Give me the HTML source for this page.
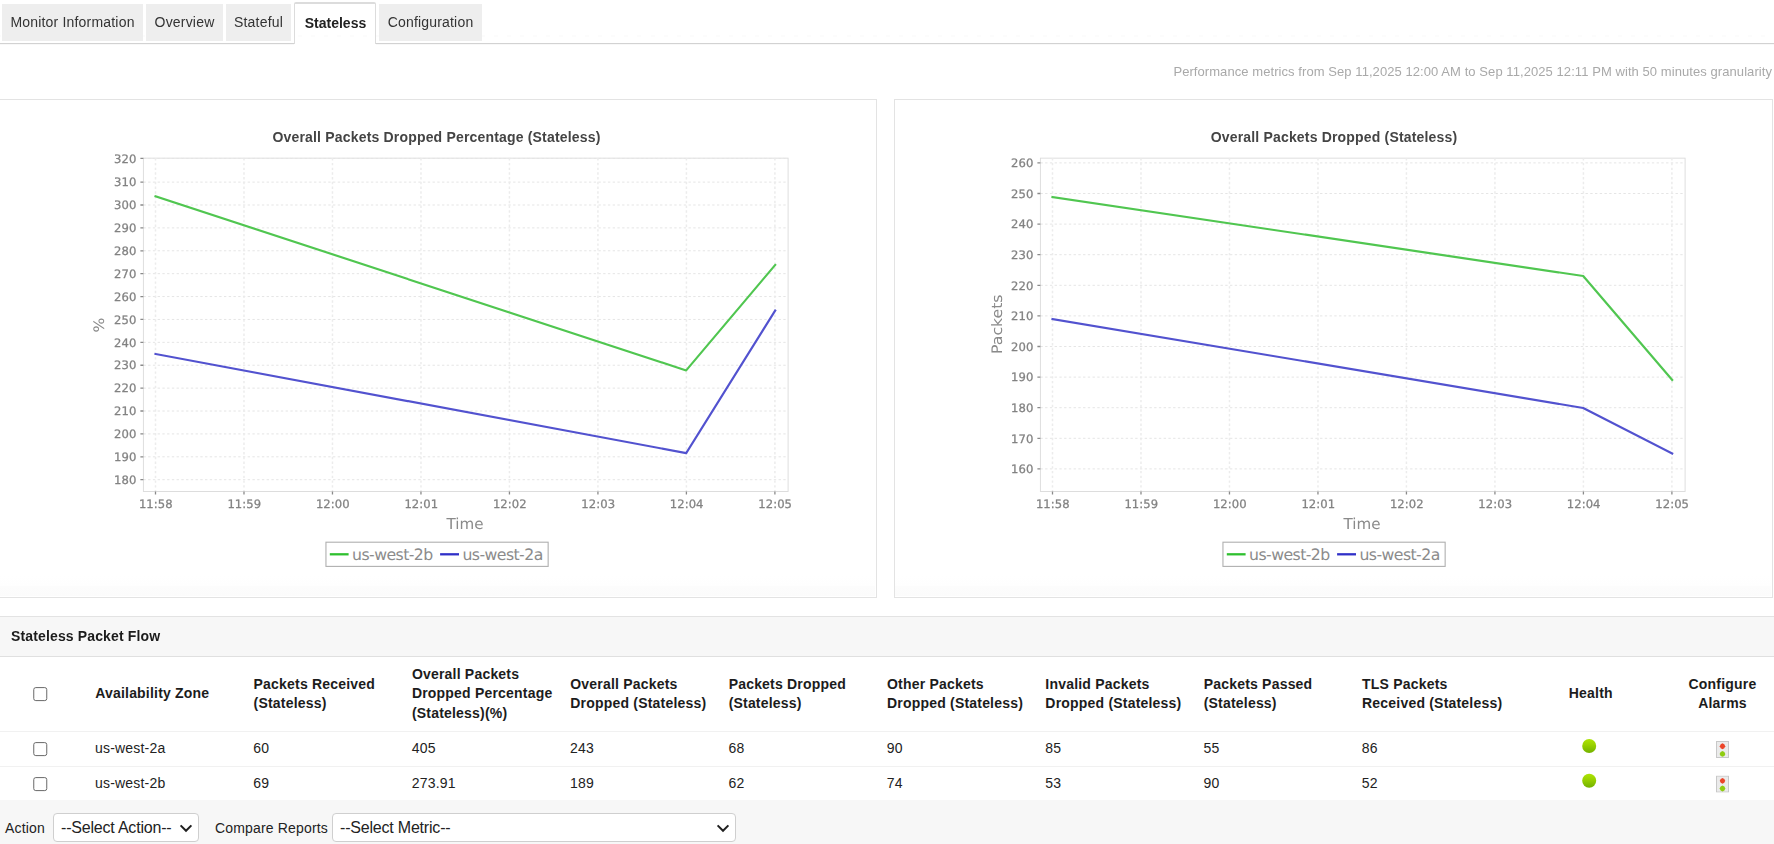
<!DOCTYPE html>
<html lang="en">
<head>
<meta charset="utf-8">
<title>Stateless</title>
<style>
*{box-sizing:border-box}
html,body{margin:0;padding:0;background:#fff;width:1774px;height:844px;overflow:hidden}
body{font-family:"Liberation Sans",sans-serif;font-size:14px;color:#222;position:relative}
.tabs{position:absolute;left:0;top:0;width:1774px;height:44px;border-bottom:1px solid #d2d2d2;box-shadow:0 .5px 0 #f0f0f0}
.tabs ul{list-style:none;margin:0;padding:0}
.tabs::after{content:"";position:absolute;left:-3px;top:35px;width:1777px;height:2px;background:repeating-linear-gradient(90deg,#fcfcfc 0 4px,rgba(0,0,0,0) 4px 13.07px);mix-blend-mode:darken;pointer-events:none}
.tabs li{position:absolute;top:4px;height:37px;background:#eeeeee;color:#333;font-size:14px;line-height:37px;text-align:center;white-space:nowrap;letter-spacing:.19px}
.tabs li.on{top:2px;height:42px;letter-spacing:0;padding-left:1px;background:#fff;border:1px solid #dcdcdc;border-bottom:0;border-top:2px solid #dcdcdc;box-shadow:0 1px 0 #fff;font-weight:bold;color:#222;line-height:38px;border-radius:2px 2px 0 0}
.perf{position:absolute;right:2px;top:64px;font-size:13px;line-height:15px;color:#a9a9a9;white-space:nowrap;letter-spacing:.07px}
.panel{position:absolute;top:99px;height:499px;border:1px solid #e3e3e3;background:#fff}
.panel::after{content:"";position:absolute;left:0;right:1px;bottom:1px;height:20px;background:linear-gradient(180deg,#fff 0%,#fefefe 48%,#fcfcfc 52%,#fbfbfb 100%);z-index:0}
.p1{left:-1px;width:878px}
.p2{left:894px;width:879px}
.chart{display:block;position:absolute;left:0;top:0;text-rendering:geometricPrecision}
.ct{position:absolute;top:29px;left:0;font-weight:bold;font-size:14px;line-height:16px;color:#444;white-space:nowrap;letter-spacing:.18px;text-align:center}
.tl{font-family:"DejaVu Sans",sans-serif;font-size:11.6px;letter-spacing:.06px;fill:#828282;stroke:#828282;stroke-width:.28px}
.al{font-family:"DejaVu Sans",sans-serif;font-size:15.1px;letter-spacing:.1px;fill:#8a8a8a}
.lg{font-family:"DejaVu Sans",sans-serif;font-size:15.7px;letter-spacing:-.55px;fill:#8b8b8b}
.sect{position:absolute;left:0;top:616px;width:1774px;height:228px;background:#f7f7f7;border-top:1px solid #e3e3e3}
.sect h3{margin:0;position:absolute;left:11px;top:11px;font-size:14px;line-height:16px;font-weight:bold;color:#1c1c1c;letter-spacing:.14px}
table.grid{position:absolute;left:0;top:656px;width:1774px;border-collapse:collapse;background:#fff;border-top:1px solid #e0e0e0;table-layout:fixed}
table.grid th{height:75px;text-align:left;font-weight:bold;font-size:14px;line-height:19.5px;color:#1c1c1c;padding:0 0 0 8.8px;vertical-align:middle;letter-spacing:.2px}
table.grid td{height:35px;border-top:1px solid #f1f1f1;font-size:14px;color:#222;padding:0 0 2px 8.6px;vertical-align:middle;letter-spacing:.2px}
table.grid tr.r2 td{height:34px}
table.grid th.c,table.grid td.c{text-align:center;padding-left:0}
table.grid th.c2{padding-left:1px}
table.grid th.k,table.grid td.k{padding-left:33px}
.cb{display:block;width:14px;height:14px;border:1px solid #686868;border-radius:2.5px;background:#fff;position:relative;top:1px;transform:translate(.25px,.1px)}
th .cb{top:0}
.dot{display:inline-block;width:14px;height:14px;border-radius:50%;background:linear-gradient(180deg,#abe205 5%,#9ad200 40%,#76b400 95%);vertical-align:middle;position:relative;top:-3px;left:-1px;transform:translateX(-.8px)}
tr.r2 .dot{transform:translate(-.8px,-.3px)}
tr.r2 .alarm{transform:translateY(-.4px)}
.alarm{display:inline-block;vertical-align:middle;position:relative;top:1px;left:1px}
.foot{position:absolute;left:0;top:800px;width:1774px;height:44px;background:#f7f7f7;font-size:14px;color:#222}
.foot label{position:absolute;top:20px;line-height:16px;white-space:nowrap;letter-spacing:.17px}
.sel{position:absolute;top:13px;height:29px;border:1px solid #cfcfcf;border-radius:4px;background:#fff;font-size:16px;line-height:27px;color:#222;padding-left:7px;white-space:nowrap;letter-spacing:-.2px}
.sel svg{position:absolute;right:5px;top:10px}

.yl{font-size:15.7px;letter-spacing:0}

</style>
</head>
<body>
<div class="tabs">
<ul>
<li style="left:2px;width:141px">Monitor Information</li>
<li style="left:146px;width:77px">Overview</li>
<li style="left:226px;width:65px">Stateful</li>
<li class="on" style="left:294px;width:82px">Stateless</li>
<li style="left:379px;width:103px">Configuration</li>
</ul>
</div>
<div class="perf">Performance metrics from Sep 11,2025 12:00 AM to Sep 11,2025 12:11 PM with 50 minutes granularity</div>
<div class="panel p1">
<div class="ct" style="left:272px;width:329px">Overall Packets Dropped Percentage (Stateless)</div>
<svg class="chart" width="875" height="497" viewBox="0 0 875 497">
<rect x="143.4" y="58.15" width="644.7" height="333.35" fill="#fff" stroke="#dcdcdc" stroke-width="0.95"/>
<path d="M143.4 58.4H788.1M143.4 82.1H788.1M143.4 104.99H788.1M143.4 127.88H788.1M143.4 150.78H788.1M143.4 173.67H788.1M143.4 196.56H788.1M143.4 219.45H788.1M143.4 242.35H788.1M143.4 265.24H788.1M143.4 288.13H788.1M143.4 311.02H788.1M143.4 333.92H788.1M143.4 356.81H788.1M143.4 379.7H788.1" fill="none" stroke="#e5e5e5" stroke-width="1" stroke-dasharray="2.37 2.37"/>
<path d="M155.5 58.15V391.5M243.99 58.15V391.5M332.47 58.15V391.5M420.96 58.15V391.5M509.44 58.15V391.5M597.93 58.15V391.5M686.41 58.15V391.5M774.9 58.15V391.5" fill="none" stroke="#ececec" stroke-width="1.5" stroke-dasharray="2.37 2.37"/>
<path d="M140.4 58.4H143.4M140.4 82.1H143.4M140.4 104.99H143.4M140.4 127.88H143.4M140.4 150.78H143.4M140.4 173.67H143.4M140.4 196.56H143.4M140.4 219.45H143.4M140.4 242.35H143.4M140.4 265.24H143.4M140.4 288.13H143.4M140.4 311.02H143.4M140.4 333.92H143.4M140.4 356.81H143.4M140.4 379.7H143.4M155.5 391.5V394.5M243.99 391.5V394.5M332.47 391.5V394.5M420.96 391.5V394.5M509.44 391.5V394.5M597.93 391.5V394.5M686.41 391.5V394.5M774.9 391.5V394.5" fill="none" stroke="#8a8a8a" stroke-width="1.3"/>
<g class="tl" text-anchor="end">
<text x="136.4" y="62.6">320</text>
<text x="136.4" y="86.3">310</text>
<text x="136.4" y="109.19">300</text>
<text x="136.4" y="132.08">290</text>
<text x="136.4" y="154.98">280</text>
<text x="136.4" y="177.87">270</text>
<text x="136.4" y="200.76">260</text>
<text x="136.4" y="223.65">250</text>
<text x="136.4" y="246.55">240</text>
<text x="136.4" y="269.44">230</text>
<text x="136.4" y="292.33">220</text>
<text x="136.4" y="315.22">210</text>
<text x="136.4" y="338.12">200</text>
<text x="136.4" y="361.01">190</text>
<text x="136.4" y="383.9">180</text>
</g>
<g class="tl" text-anchor="middle">
<text x="155.8" y="408.2">11:58</text>
<text x="244.29" y="408.2">11:59</text>
<text x="332.77" y="408.2">12:00</text>
<text x="421.26" y="408.2">12:01</text>
<text x="509.74" y="408.2">12:02</text>
<text x="598.23" y="408.2">12:03</text>
<text x="686.71" y="408.2">12:04</text>
<text x="775.2" y="408.2">12:05</text>
</g>
<text class="al" text-anchor="middle" x="465.1" y="428.85">Time</text>
<text class="al yl" text-anchor="middle" transform="translate(104.45 224.95) rotate(-90) scale(1 .92)">%</text>
<polyline points="155.5,96.3 686.2,270.4 775.2,164.9" fill="none" stroke="#50c650" stroke-width="2.15" stroke-linejoin="round" stroke-linecap="square"/>
<polyline points="155.5,254 686.2,353.1 775.2,210.5" fill="none" stroke="#5252cf" stroke-width="2.15" stroke-linejoin="round" stroke-linecap="square"/>
<rect x="325.95" y="442.2" width="222.2" height="24.2" fill="#fff" stroke="#b0b0b0" stroke-width="1.1"/>
<path d="M329.8 454.3H348.6" stroke="#2fc02f" stroke-width="2.3" fill="none"/>
<text class="lg" x="352.0" y="460.0">us-west-2b</text>
<path d="M440.1 454.3H459" stroke="#3030c8" stroke-width="2.3" fill="none"/>
<text class="lg" x="462.4" y="460.0">us-west-2a</text>
</svg>
</div>
<div class="panel p2">
<div class="ct" style="left:299px;width:280px">Overall Packets Dropped (Stateless)</div>
<svg class="chart" width="877" height="497" viewBox="0 0 877 497">
<rect x="145.4" y="58.15" width="644.7" height="333.35" fill="#fff" stroke="#dcdcdc" stroke-width="0.95"/>
<path d="M145.4 62.9H790.1M145.4 93.5H790.1M145.4 124.1H790.1M145.4 154.7H790.1M145.4 185.3H790.1M145.4 215.9H790.1M145.4 246.5H790.1M145.4 277.1H790.1M145.4 307.7H790.1M145.4 338.3H790.1M145.4 368.9H790.1" fill="none" stroke="#e5e5e5" stroke-width="1" stroke-dasharray="2.37 2.37"/>
<path d="M157.5 58.15V391.5M245.99 58.15V391.5M334.47 58.15V391.5M422.96 58.15V391.5M511.44 58.15V391.5M599.93 58.15V391.5M688.41 58.15V391.5M776.9 58.15V391.5" fill="none" stroke="#ececec" stroke-width="1.5" stroke-dasharray="2.37 2.37"/>
<path d="M142.4 62.9H145.4M142.4 93.5H145.4M142.4 124.1H145.4M142.4 154.7H145.4M142.4 185.3H145.4M142.4 215.9H145.4M142.4 246.5H145.4M142.4 277.1H145.4M142.4 307.7H145.4M142.4 338.3H145.4M142.4 368.9H145.4M157.5 391.5V394.5M245.99 391.5V394.5M334.47 391.5V394.5M422.96 391.5V394.5M511.44 391.5V394.5M599.93 391.5V394.5M688.41 391.5V394.5M776.9 391.5V394.5" fill="none" stroke="#8a8a8a" stroke-width="1.3"/>
<g class="tl" text-anchor="end">
<text x="138.4" y="67.1">260</text>
<text x="138.4" y="97.7">250</text>
<text x="138.4" y="128.3">240</text>
<text x="138.4" y="158.9">230</text>
<text x="138.4" y="189.5">220</text>
<text x="138.4" y="220.1">210</text>
<text x="138.4" y="250.7">200</text>
<text x="138.4" y="281.3">190</text>
<text x="138.4" y="311.9">180</text>
<text x="138.4" y="342.5">170</text>
<text x="138.4" y="373.1">160</text>
</g>
<g class="tl" text-anchor="middle">
<text x="157.8" y="408.2">11:58</text>
<text x="246.29" y="408.2">11:59</text>
<text x="334.77" y="408.2">12:00</text>
<text x="423.26" y="408.2">12:01</text>
<text x="511.74" y="408.2">12:02</text>
<text x="600.23" y="408.2">12:03</text>
<text x="688.71" y="408.2">12:04</text>
<text x="777.2" y="408.2">12:05</text>
</g>
<text class="al" text-anchor="middle" x="467.1" y="428.85">Time</text>
<text class="al yl" text-anchor="middle" transform="translate(106.9 224.2) rotate(-90) scale(1 .92)">Packets</text>
<polyline points="157.5,97 688.2,176 777.2,280" fill="none" stroke="#50c650" stroke-width="2.15" stroke-linejoin="round" stroke-linecap="square"/>
<polyline points="157.5,219 688.2,308 777.2,353.5" fill="none" stroke="#5252cf" stroke-width="2.15" stroke-linejoin="round" stroke-linecap="square"/>
<rect x="327.95" y="442.2" width="222.2" height="24.2" fill="#fff" stroke="#b0b0b0" stroke-width="1.1"/>
<path d="M331.8 454.3H350.6" stroke="#2fc02f" stroke-width="2.3" fill="none"/>
<text class="lg" x="354.0" y="460.0">us-west-2b</text>
<path d="M442.1 454.3H461" stroke="#3030c8" stroke-width="2.3" fill="none"/>
<text class="lg" x="464.4" y="460.0">us-west-2a</text>
</svg>
</div>
<div class="sect"><h3>Stateless Packet Flow</h3></div>
<table class="grid">
<colgroup><col style="width:86.4px"><col style="width:158.36px"><col style="width:158.36px"><col style="width:158.36px"><col style="width:158.36px"><col style="width:158.36px"><col style="width:158.36px"><col style="width:158.36px"><col style="width:158.36px"><col style="width:158.36px"><col style="width:158.36px"><col style="width:104px"></colgroup>
<thead>
<tr><th class="k"><span class="cb"></span></th><th>Availability Zone</th><th>Packets Received<br>(Stateless)</th><th>Overall Packets<br>Dropped Percentage<br>(Stateless)(%)</th><th>Overall Packets<br>Dropped (Stateless)</th><th>Packets Dropped<br>(Stateless)</th><th>Other Packets<br>Dropped (Stateless)</th><th>Invalid Packets<br>Dropped (Stateless)</th><th>Packets Passed<br>(Stateless)</th><th>TLS Packets<br>Received (Stateless)</th><th class="c">Health</th><th class="c c2">Configure<br>Alarms</th></tr>
</thead>
<tbody>
<tr><td class="k"><span class="cb"></span></td><td>us-west-2a</td><td>60</td><td>405</td><td>243</td><td>68</td><td>90</td><td>85</td><td>55</td><td>86</td><td class="c"><span class="dot"></span></td><td class="c"><svg class="alarm" width="13" height="17" viewBox="0 0 13 17"><rect x=".5" y=".5" width="12" height="16" fill="#ebebeb" stroke="#c8c8c8"/><path d="M6.5 2.3Q8.7 2.89 9.25 5.25Q8.7 7.61 6.5 8.2Q4.3 7.61 3.75 5.25Q4.3 2.89 6.5 2.3Z" fill="#ec4428"/><path d="M6.5 9.95Q8.78 10.54 9.35 12.9Q8.78 15.26 6.5 15.85Q4.22 15.26 3.65 12.9Q4.22 10.54 6.5 9.95Z" fill="#8fcc10"/></svg></td></tr>
<tr class="r2"><td class="k"><span class="cb"></span></td><td>us-west-2b</td><td>69</td><td>273.91</td><td>189</td><td>62</td><td>74</td><td>53</td><td>90</td><td>52</td><td class="c"><span class="dot"></span></td><td class="c"><svg class="alarm" width="13" height="17" viewBox="0 0 13 17"><rect x=".5" y=".5" width="12" height="16" fill="#ebebeb" stroke="#c8c8c8"/><path d="M6.5 2.3Q8.7 2.89 9.25 5.25Q8.7 7.61 6.5 8.2Q4.3 7.61 3.75 5.25Q4.3 2.89 6.5 2.3Z" fill="#ec4428"/><path d="M6.5 9.95Q8.78 10.54 9.35 12.9Q8.78 15.26 6.5 15.85Q4.22 15.26 3.65 12.9Q4.22 10.54 6.5 9.95Z" fill="#8fcc10"/></svg></td></tr>
</tbody>
</table>
<div class="foot">
<label style="left:5px">Action</label>
<div class="sel" style="left:53px;width:146px">--Select Action--<svg width="14" height="9" viewBox="0 0 14 9"><path d="M1.6 1.4l5.4 5.4 5.4-5.4" fill="none" stroke="#1f1f1f" stroke-width="2"/></svg></div>
<label style="left:215px">Compare Reports</label>
<div class="sel" style="left:332px;width:404px">--Select Metric--<svg width="14" height="9" viewBox="0 0 14 9"><path d="M1.6 1.4l5.4 5.4 5.4-5.4" fill="none" stroke="#1f1f1f" stroke-width="2"/></svg></div>
</div>

</body>
</html>
